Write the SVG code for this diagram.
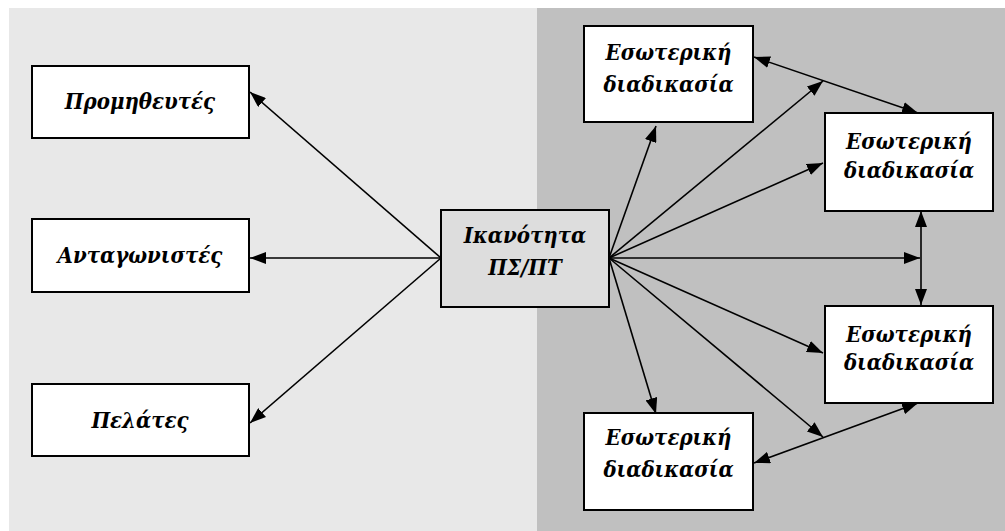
<svg xmlns="http://www.w3.org/2000/svg" width="1005" height="531" viewBox="0 0 1005 531">
  <style>
    .box { fill: #ffffff; stroke: #000000; stroke-width: 2; }
    .core { fill: #dddddd; stroke: #000000; stroke-width: 2; }
    .lbl { font-family: "DejaVu Serif Condensed", "DejaVu Serif", "Liberation Serif", serif; font-weight: bold; font-style: italic; font-size: 22px; fill: #000000; text-anchor: middle; }
    .link { stroke: #000000; stroke-width: 1.6; fill: none; marker-end: url(#head); }
    .both { marker-start: url(#head); }
  </style>
  <defs>
    <marker id="head" markerUnits="userSpaceOnUse" markerWidth="16" markerHeight="12" viewBox="0 0 16 12" refX="16" refY="6" orient="auto-start-reverse">
      <path d="M0,0 L16,6 L0,12 Z" fill="#000000"/>
    </marker>
  </defs>

  <!-- background panels: environment (left) and organisation (right) -->
  <rect x="9" y="8" width="528" height="523" fill="#e8e8e8"/>
  <rect x="537" y="8" width="468" height="523" fill="#c0c0c0"/>

  <g id="connectors">
    <!-- outward links to the environment -->
    <line class="link" x1="441" y1="258" x2="250" y2="92"/>
    <line class="link" x1="441" y1="258" x2="250" y2="258"/>
    <line class="link" x1="441" y1="258" x2="250" y2="423"/>
    <!-- links to internal processes -->
    <line class="link" x1="609" y1="258" x2="656" y2="126"/>
    <line class="link" x1="609" y1="258" x2="823" y2="81"/>
    <line class="link" x1="609" y1="258" x2="823" y2="163"/>
    <line class="link" x1="609" y1="258" x2="920" y2="258"/>
    <line class="link" x1="609" y1="258" x2="823" y2="353"/>
    <line class="link" x1="609" y1="258" x2="823" y2="437"/>
    <line class="link" x1="609" y1="258" x2="656" y2="414"/>
    <!-- links between internal processes -->
    <line class="link both" x1="754" y1="57" x2="918" y2="113"/>
    <line class="link both" x1="921" y1="211" x2="921" y2="305"/>
    <line class="link both" x1="754" y1="463" x2="918" y2="403"/>
  </g>

  <g id="suppliers">
    <rect class="box" x="32" y="66" width="217" height="72"/>
    <text class="lbl" x="140" y="109">Προμηθευτές</text>
  </g>
  <g id="competitors">
    <rect class="box" x="32" y="219" width="217" height="73"/>
    <text class="lbl" x="140" y="263">Ανταγωνιστές</text>
  </g>
  <g id="customers">
    <rect class="box" x="32" y="384" width="217" height="72"/>
    <text class="lbl" x="140" y="428">Πελάτες</text>
  </g>
  <g id="capability">
    <rect class="core" x="441" y="210" width="168" height="97"/>
    <text class="lbl" x="525" y="243">Ικανότητα</text>
    <text class="lbl" x="525" y="275">ΠΣ/ΠΤ</text>
  </g>
  <g id="process-top">
    <rect class="box" x="584" y="26" width="169" height="96"/>
    <text class="lbl" x="668.5" y="60">Εσωτερική</text>
    <text class="lbl" x="668.5" y="92">διαδικασία</text>
  </g>
  <g id="process-upper-right">
    <rect class="box" x="825" y="113" width="168" height="98"/>
    <text class="lbl" x="909" y="149">Εσωτερική</text>
    <text class="lbl" x="909" y="178">διαδικασία</text>
  </g>
  <g id="process-lower-right">
    <rect class="box" x="825" y="306" width="168" height="97"/>
    <text class="lbl" x="909" y="342">Εσωτερική</text>
    <text class="lbl" x="909" y="370">διαδικασία</text>
  </g>
  <g id="process-bottom">
    <rect class="box" x="584" y="413" width="169" height="97"/>
    <text class="lbl" x="668.5" y="445">Εσωτερική</text>
    <text class="lbl" x="668.5" y="477">διαδικασία</text>
  </g>
</svg>
